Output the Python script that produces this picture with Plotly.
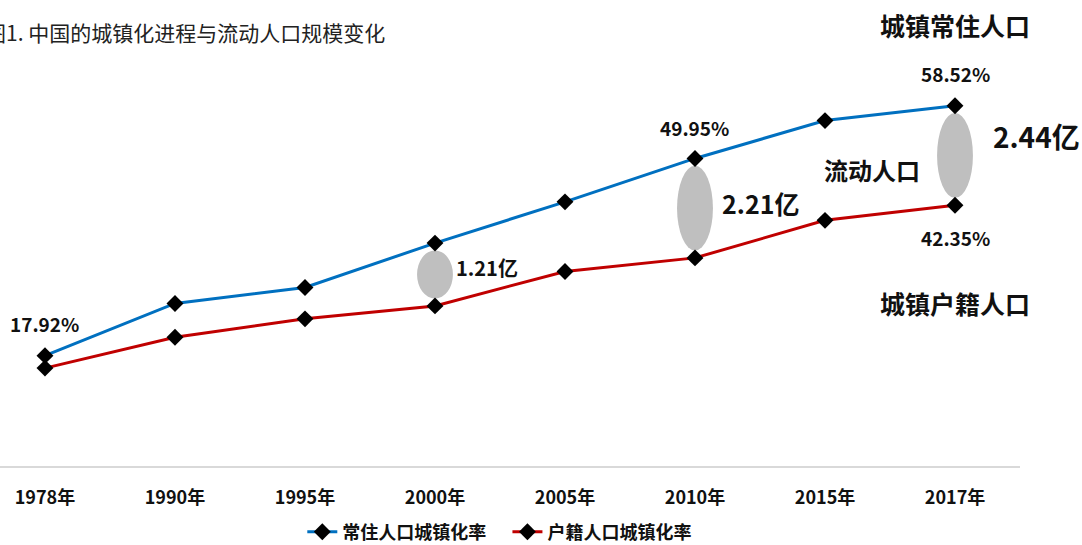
import plotly.graph_objects as go

years = ["1978年", "1990年", "1995年", "2000年", "2005年", "2010年", "2015年", "2017年"]
resident_rate = [17.92, 26.4, 29.0, 36.2, 42.9, 49.95, 56.1, 58.52]
hukou_rate = [15.9, 20.9, 23.9, 26.0, 31.6, 33.8, 39.9, 42.35]
gap_labels = {3: "1.21亿", 5: "2.21亿", 7: "2.44亿"}
series_names = ["常住人口城镇化率", "户籍人口城镇化率"]

FONT = "Noto Sans CJK SC"
BLUE = "#0070C0"
RED = "#C00000"

fig = go.Figure()
fig.add_trace(go.Scatter(
    x=years, y=resident_rate, name=f"<b>{series_names[0]}</b>&nbsp;&nbsp;&nbsp;&nbsp;",
    mode="lines+markers",
    line=dict(color=BLUE, width=3),
    marker=dict(symbol="diamond", size=13, color="black"),
))
fig.add_trace(go.Scatter(
    x=years, y=hukou_rate, name=f"<b>{series_names[1]}</b>", mode="lines+markers",
    line=dict(color=RED, width=3),
    marker=dict(symbol="diamond", size=13, color="black"),
))

shapes = []
for i in gap_labels:
    hi = resident_rate[i] - 1.2
    lo = hukou_rate[i] + 1.2
    shapes.append(dict(type="circle", xref="x", yref="y",
                       x0=i - 0.138, x1=i + 0.138, y0=lo, y1=hi,
                       fillcolor="#BFBFBF", line=dict(width=0), layer="below"))

PLOT_W = 1020.0
PLOT_H = 431.0
TOP = 35.0

ann = []
def A(text, x, y, size, bold=True, xanchor="center", xref="x", yref="y", yshift=0, color="#111111"):
    t = f"<b>{text}</b>" if bold else text
    ann.append(dict(text=t, x=x, y=y, xref=xref, yref=yref, showarrow=False,
                    xanchor=xanchor, yanchor="middle", yshift=yshift,
                    font=dict(family=FONT, size=size, color=color)))

def py(pix):
    return 1 - (pix - TOP) / PLOT_H

A("图1. 中国的城镇化进程与流动人口规模变化", -17 / PLOT_W, py(32), 21, bold=False, xanchor="left",
  xref="paper", yref="paper", color="#222222")
A("城镇常住人口", 955 / PLOT_W, py(25), 25, xref="paper", yref="paper")
A(f"{resident_rate[7]:.2f}%", 7, resident_rate[7], 19, yshift=32)
A(f"{resident_rate[5]:.2f}%", 5, resident_rate[5], 19, yshift=31)
A(f"{resident_rate[0]:.2f}%", 0, resident_rate[0], 19, yshift=32)
A(f"{hukou_rate[7]:.2f}%", 7, hukou_rate[7], 19, yshift=-32)
A("城镇户籍人口", 7, 26.5, 25)
A("流动人口", 6.36, 48.1, 24)
A(gap_labels[7], 7.28, 53.6, 28, xanchor="left")
A(gap_labels[5], 5.19, 42.7, 25, xanchor="left")
A(gap_labels[3], 3.15, 32.2, 20, xanchor="left")

fig.update_layout(
    width=1082, height=545,
    margin=dict(l=0, r=62, t=35, b=79, autoexpand=False),
    paper_bgcolor="white", plot_bgcolor="white",
    font=dict(family=FONT, color="#111111"),
    shapes=shapes, annotations=ann,
    showlegend=True,
    legend=dict(orientation="h", x=0.49, xanchor="center", y=-(532 - 466) / PLOT_H, yanchor="middle",
                font=dict(family=FONT, size=18, color="#111111"),
                itemwidth=30, bgcolor="rgba(0,0,0,0)", borderwidth=0,
                tracegroupgap=0),
    xaxis=dict(type="category", range=[-0.346, 7.5], showgrid=False, zeroline=False,
               showline=True, linecolor="#D9D9D9", linewidth=2, ticks="",
               tickfont=dict(family=FONT, size=18, color="#111111"),
               tickprefix="<b>", ticksuffix="</b>", ticklabelstandoff=14),
    yaxis=dict(range=[0, 70], visible=False, showgrid=False, zeroline=False),
)

fig.write_html("out.html", config={"displayModeBar": False},
               post_script="document.body.style.margin='0';")
